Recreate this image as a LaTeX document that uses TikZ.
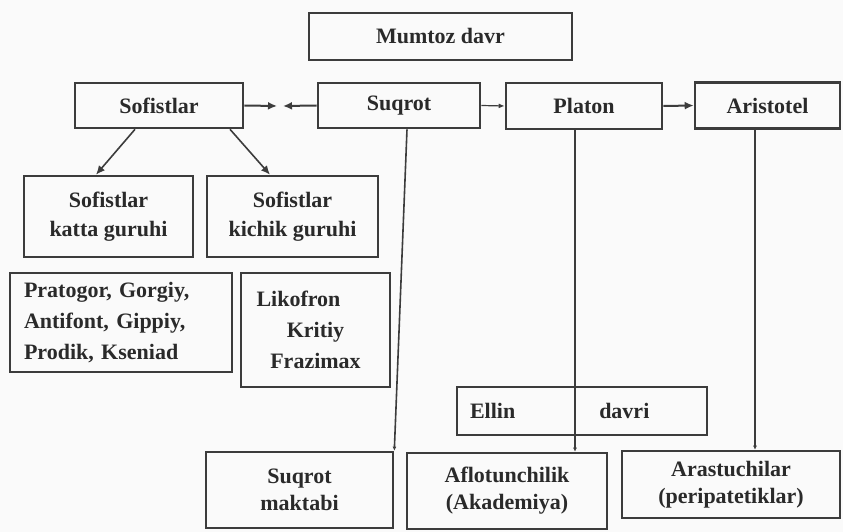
\documentclass[tikz,border=0pt]{standalone}
\usepackage{fontspec}
\setmainfont{Liberation Serif}
\usetikzlibrary{arrows.meta,calc}
\definecolor{bgc}{HTML}{FAFAFA}
\definecolor{linec}{HTML}{3C3C3C}
\definecolor{textc}{HTML}{2A2A2A}
\begin{document}
\begin{tikzpicture}[x=1pt,y=-1pt,
  every node/.style={font=\bfseries\fontsize{22}{31}\selectfont, text=textc},
  thickbox/.style={draw=linec, line width=2.6pt, inner sep=0pt, align=center},
  thinbox/.style={draw=linec, line width=1.3pt, inner sep=0pt, align=center},
  midbox/.style={draw=linec, line width=1.7pt, inner sep=0pt},
  arr/.style={draw=linec, line width=2pt, -{Latex[length=9pt,width=8pt]}},
  vline/.style={draw=linec, line width=2pt, -{Latex[length=4pt,width=4pt]}}
]
\fill[bgc] (0,0) rectangle (843,532);
\useasboundingbox (0,0) rectangle (843,532);

% top
\node[thinbox, minimum width=263pt, minimum height=47pt] (mumtoz) at (440.5,36.5) {Mumtoz davr};

% row 2
\node[thickbox, minimum width=168pt, minimum height=45pt] (sof) at (159,105.5) {Sofistlar};
\node[thickbox, minimum width=162pt, minimum height=45pt] (suq) at (399,105.5) {Suqrot};
\node[thickbox, minimum width=156pt, minimum height=46pt] (pla) at (584,106) {Platon};
\node[thickbox, minimum width=145pt, minimum height=46pt] (ari) at (767.5,105.5) {Aristotel};

% sofist groups
\node[thickbox, minimum width=169pt, minimum height=81pt] (katta) at (108.5,216.5) {Sofistlar\\[-2pt]katta guruhi};
\node[thickbox, minimum width=171pt, minimum height=81pt] (kichik) at (292.5,216.5) {Sofistlar\\[-2pt]kichik guruhi};

\node[midbox, minimum height=99pt, text width=194pt, inner xsep=14pt, align=left] (prat) at (121,322.5)
  {Pratogor, Gorgiy,\\Antifont, Gippiy,\\Prodik, Kseniad};
\node[midbox, minimum width=149pt, minimum height=114pt, align=center] (liko) at (315.5,330)
  {Likofron\hspace*{34pt}\\Kritiy\\Frazimax};

% Ellin davri
\node[thinbox, minimum height=48pt, text width=224pt, inner xsep=13pt, align=left] (ellin) at (582,411)
  {Ellin\hspace*{84pt}davri};

% bottom
\node[thickbox, minimum width=187pt, minimum height=76pt] (makt) at (299.5,490) {Suqrot\\[-4pt]maktabi};
\node[thickbox, minimum width=200pt, minimum height=76pt] (aflot) at (507,491) {Aflotunchilik\\[-4pt](Akademiya)};
\node[thickbox, minimum width=218pt, minimum height=67pt] (arast) at (731,484.5) {Arastuchilar\\[-4pt](peripatetiklar)};

% arrows row 2
\coordinate (g1) at (277,106);
\coordinate (g2) at (283,106);
\draw[arr] (sof.east) -- (g1);
\draw[arr] (suq.west) -- (g2);
\draw[draw=linec, line width=1.2pt, -{Latex[length=6pt,width=5pt]}] (suq.east) -- (pla.west);
\draw[arr] (pla.east) -- (ari.west);

% sofistlar to groups
\draw[draw=linec, line width=1.6pt, -{Latex[length=9pt,width=8pt]}] ([xshift=-24pt]sof.south) -- ([xshift=-12.5pt]katta.north);
\draw[draw=linec, line width=1.6pt, -{Latex[length=9pt,width=8pt]}] ([xshift=71pt]sof.south) -- ([xshift=-22.5pt]kichik.north);

% long lines
\draw[vline, line width=1.6pt] ([xshift=8pt]suq.south) -- (makt.north east);
\draw[vline] ([xshift=-9pt]pla.south) -- ([xshift=-9pt]pla.south |- aflot.north);
\draw[vline, line width=2.4pt] ([xshift=-12.5pt]ari.south) -- ([xshift=-12.5pt]ari.south |- arast.north);
\end{tikzpicture}
\end{document}
